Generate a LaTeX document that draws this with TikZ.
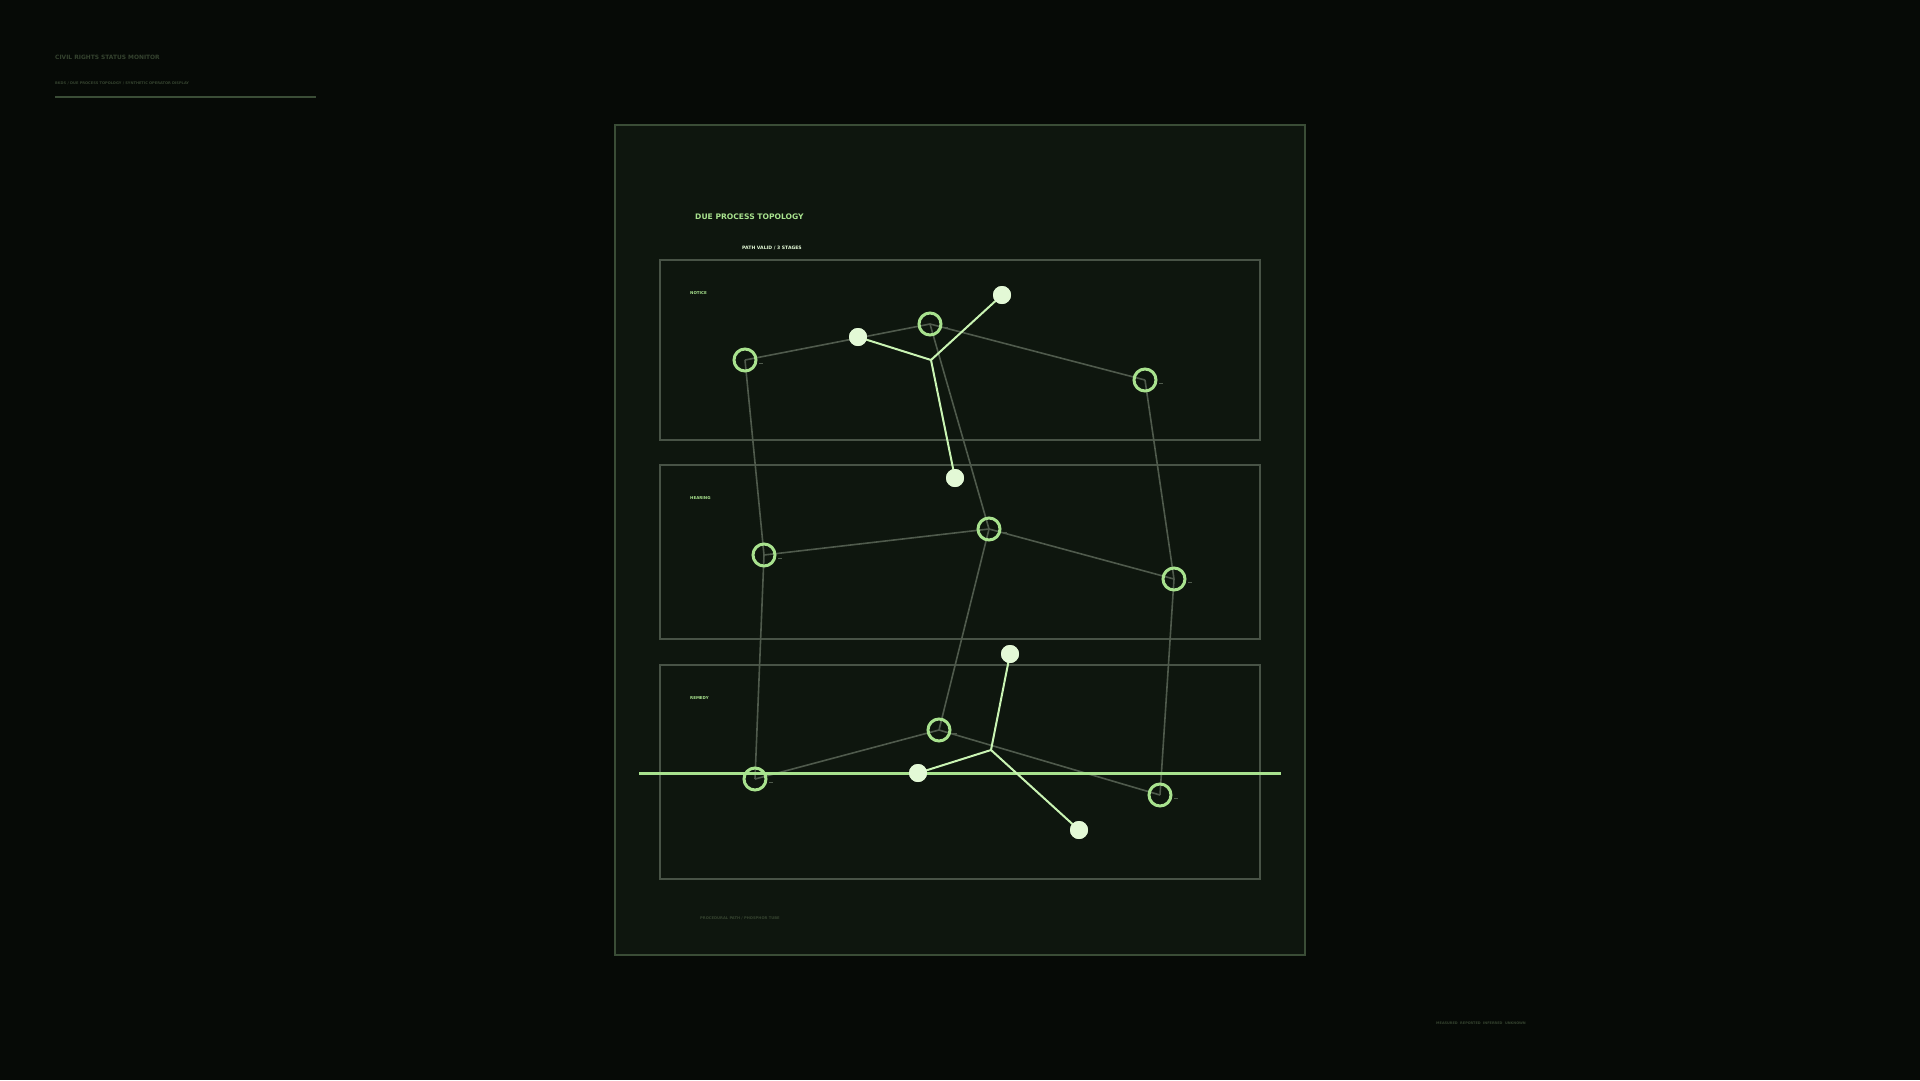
\documentclass[tikz,border=0pt]{standalone}
\usepackage{fontspec}
\setmainfont{DejaVu Sans}
\definecolor{bgdark}{HTML}{060A06}
\definecolor{panelfill}{HTML}{0E160E}
\definecolor{panelline}{HTML}{3A4D36}
\definecolor{boxline}{HTML}{485346}
\definecolor{edgegrey}{HTML}{4F5A4C}
\definecolor{phosphor}{HTML}{A8E28E}
\definecolor{glow}{HTML}{C9F4B3}
\definecolor{dotwhite}{HTML}{E3F9D6}
\definecolor{dimtext}{HTML}{35432F}
\tikzset{
  ring/.style={circle,draw=phosphor,line width=3pt,minimum size=22pt,inner sep=0pt},
  dotnode/.style={circle,fill=dotwhite,minimum size=18pt,inner sep=0pt},
  edge/.style={draw=edgegrey,line width=1.6pt},
  trace/.style={draw=glow,line width=2pt},
  stagebox/.style={draw=boxline,line width=1.5pt},
  ticky/.style={draw=edgegrey,line width=1pt},
  stagelabel/.style={anchor=west,text=phosphor,font=\fontsize{4}{5}\selectfont\bfseries,inner sep=0pt}
}
\begin{document}
\begin{tikzpicture}[x=1pt,y=-1pt]

		\useasboundingbox (0,0) rectangle (1920,1080);
		\fill[bgdark] (0,0) rectangle (1920,1080);

		% header
		\node[anchor=west,inner sep=0pt,text=dimtext,font=\fontsize{5.9}{8}\selectfont\bfseries] (hdr) at (55,57) {CIVIL RIGHTS STATUS MONITOR};
		\node[anchor=west,inner sep=0pt,text=dimtext,font=\fontsize{3.6}{5}\selectfont\bfseries] (sub) at (55,83) {BKDS / DUE PROCESS TOPOLOGY / SYNTHETIC OPERATOR DISPLAY};
		\draw[panelline,line width=2pt] (55,97) to (316,97);

		% panel
		\draw[panelline,fill=panelfill,line width=2.5pt] (615,125) rectangle (1305,955);
		\node[anchor=west,inner sep=0pt,text=phosphor,font=\fontsize{7.6}{9}\selectfont\bfseries] (title) at (695,217) {DUE PROCESS TOPOLOGY};
		\node[anchor=east,inner sep=0pt,text=dotwhite,font=\fontsize{4.6}{6}\selectfont\bfseries] (status) at (802,248) {PATH VALID / 3 STAGES};

		% stages
		\draw[stagebox] (660,260) rectangle (1260,440);
		\draw[stagebox] (660,465) rectangle (1260,639);
		\draw[stagebox] (660,665) rectangle (1260,879);
		\node[stagelabel] (lnotice) at (690,293) {NOTICE};
		\node[stagelabel] (lhearing) at (690,498) {HEARING};
		\node[stagelabel] (lremedy) at (690,698) {REMEDY};

		% coordinates of nodes
		\coordinate (n1) at (745,360);
		\coordinate (n2) at (930,324);
		\coordinate (n3) at (1145,380);
		\coordinate (h1) at (764,555);
		\coordinate (h2) at (989,529);
		\coordinate (h3) at (1174,579);
		\coordinate (r1) at (939,730);
		\coordinate (r2) at (755,779);
		\coordinate (r3) at (1160,795);
		\coordinate (ja) at (931,360);
		\coordinate (jb) at (991,750);

		% grey network
		\draw[edge] (n1) to (n2);
		\draw[edge] (n2) to (n3);
		\draw[edge] (n1) to (h1);
		\draw[edge] (n2) to (h2);
		\draw[edge] (n3) to (h3);
		\draw[edge] (h1) to (h2);
		\draw[edge] (h2) to (h3);
		\draw[edge] (h1) to (r2);
		\draw[edge] (h2) to (r1);
		\draw[edge] (h3) to (r3);
		\draw[edge] (r2) to (r1);
		\draw[edge] (r1) to (r3);

		% small ticks
		\foreach \p in {n1,n2,n3,h1,h2,h3,r1,r2,r3}
			\draw[ticky] ([shift={(14,3)}]\p) to ++(4,0);

		% path line
		\coordinate (pl) at (639,773);
		\coordinate (pr) at (1281,773);
		\draw[phosphor,line width=3pt] (pl) to (pr);

		% dots
		\node[dotnode] (d1) at (858,337) {};
		\node[dotnode] (d2) at (1002,295) {};
		\node[dotnode] (d3) at (955,478) {};
		\node[dotnode] (d4) at (1010,654) {};
		\node[dotnode] (d5) at (918,773) {};
		\node[dotnode] (d6) at (1079,830) {};

		% bright traces
		\draw[trace] (ja) to (d1.center);
		\draw[trace] (ja) to (d2.center);
		\draw[trace] (ja) to (d3.center);
		\draw[trace] (jb) to (d4.center);
		\draw[trace] (jb) to (d5.center);
		\draw[trace] (jb) to (d6.center);
		\foreach \d in {d1,d2,d3,d4,d5,d6}
			\fill[dotwhite] (\d) circle (9);

		% rings
		\foreach \p in {n1,n2,n3,h1,h2,h3,r1,r2,r3}
			\node[ring] (ring-\p) at (\p) {};

		% footers
		\node[anchor=west,inner sep=0pt,text=dimtext,font=\fontsize{3.7}{5}\selectfont\bfseries] (foot) at (700,918) {PROCEDURAL PATH / PHOSPHOR TUBE};
		\node[anchor=west,inner sep=0pt,text=dimtext,font=\fontsize{3.45}{5}\selectfont\bfseries] (legend) at (1436,1023) {MEASURED\ \ REPORTED\ \ INFERRED\ \ UNKNOWN};

	\end{tikzpicture}
\end{document}
